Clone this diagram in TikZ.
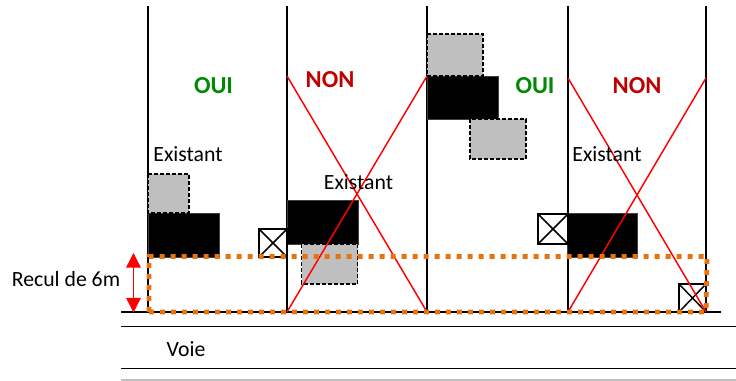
\documentclass[tikz,border=0pt]{standalone}
\usepackage{fontspec}
\setmainfont{Carlito}
\usetikzlibrary{arrows.meta}
\definecolor{recul}{HTML}{E8730C}
\definecolor{oui}{HTML}{008A00}
\definecolor{non}{HTML}{C00000}
\tikzset{
  plein/.style={fill=black,draw=black!75,line width=0.6pt},
  projet/.style={fill=black!25,draw=black,line width=0.9pt,dash pattern=on 3pt off 1.5pt},
  lot/.style={draw=black,line width=1.1pt},
  barre/.style={red,line width=1.1pt},
  legende/.style={font=\fontsize{16.3}{18}\selectfont},
  avis/.style={font=\fontsize{18.3}{20}\selectfont\bfseries}
}
\begin{document}
\begin{tikzpicture}[x=0.75pt,y=-0.75pt]
    \useasboundingbox (0,0) rectangle (736,381);
    \foreach \x in {148,287,427,568,706}
    \draw[line width=1.2pt] (\x,6) -- (\x,312);
    \draw[line width=1.2pt] (121,312) -- (721,312);
    \draw[line width=1.2pt] (121,326.5) -- (736,326.5);
    \draw[line width=1.2pt] (121,368.5) -- (736,368.5);
    \draw[black!25,line width=1.1pt] (121,380) -- (736,380);
    % emprises existantes
    \foreach \x/\y/\u/\v in {148/213/219/257,287/200/358/244,427/76/498/119,567.5/213.5/637/257}
    \draw[plein] (\x,\y) rectangle (\u,\v);
    % extensions
    \foreach \x/\y/\u/\v in {148/174/189/213,301.5/244/357.5/284,427/34/483/76,470/119/526/159}
    \draw[projet] (\x,\y) rectangle (\u,\v);
    % locaux
    \foreach \x/\y/\u/\v in {259/229/287/257,538/214/568/244,679/284/706/312}{
    \draw[lot,fill=white] (\x,\y) rectangle (\u,\v);
    \draw[lot] (\x,\y) -- (\u,\v);
    \draw[lot] (\x,\v) -- (\u,\y);
    }
    % croix
    \foreach \x/\u/\v in {287/427/76,568/706/78}{
    \draw[barre] (\x,\v) -- (\u,312);
    \draw[barre] (\x,312) -- (\u,\v);
    }
    \draw[recul,line width=3.6pt,dash pattern=on 3.6pt off 4.65pt] (149,312) -- (706,312) -- (707,256.5) -- (149,256.5) -- cycle;
    \coordinate (haut) at (133.5,253);
    \coordinate (bas) at (133.5,312.5);
    \draw[red,line width=1pt,{Triangle[width=11pt,length=11pt]}-{Triangle[width=11pt,length=11pt]}] (haut) -- (bas);
    \node[avis,text=oui] (oui1) at (213.5,86) {OUI};
    \node[avis,text=non] (non1) at (330,80) {NON};
    \node[avis,text=oui] (oui2) at (535,86) {OUI};
    \node[avis,text=non] (non2) at (637,86) {NON};
    \node[legende] (ex1) at (188,154.5) {Existant};
    \node[legende] (ex2) at (358.5,182.5) {Existant};
    \node[legende] (ex3) at (607,154.5) {Existant};
    \node[legende] (recul) at (66,279) {Recul de 6m};
    \node[legende] (voie) at (186,349.5) {Voie};
  \end{tikzpicture}
\end{document}
